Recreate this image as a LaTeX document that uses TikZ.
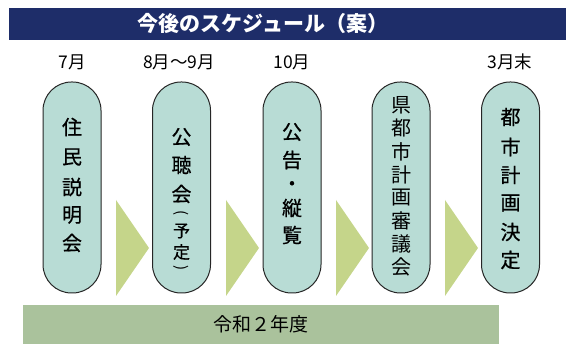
\documentclass[tikz,border=0pt]{standalone}
\usepackage{fontspec}
\setmainfont{Noto Sans CJK JP}
\newfontfamily\jpmed[FakeBold=0.6]{Noto Sans CJK JP}
\definecolor{navy}{RGB}{30,45,105}
\definecolor{pillc}{RGB}{184,220,213}
\definecolor{tric}{RGB}{197,213,138}
\definecolor{barc}{RGB}{170,194,156}
\begin{document}
\begin{tikzpicture}[x=1pt,y=-1pt,
  pill/.style={draw=black!85, line width=1pt, fill=pillc, rounded corners=28.5pt,
    minimum width=58pt, minimum height=211pt, inner sep=0pt},
  ch/.style={inner sep=0pt, font=\jpmed\fontsize{20}{20}\selectfont},
  chl/.style={inner sep=0pt, font=\fontsize{20}{20}\selectfont},
  chs/.style={inner sep=0pt, font=\jpmed\fontsize{17}{17}\selectfont},
  month/.style={inner sep=0pt, font=\fontsize{17.5}{17.5}\selectfont},
  tri/.style={fill=tric}]
\useasboundingbox (0,0) rectangle (566,344);
% title
\fill[navy] (9,8) rectangle (566,40);
\node[text=white, font=\bfseries\fontsize{21}{21}\selectfont] (title) at (263,24) {今後のスケジュール（案）};
% months
\node[month] (m1) at (72,62) {7月};
\node[month] (m2) at (179,62) {8月～9月};
\node[month] (m3) at (292,62) {10月};
\node[month] (m5) at (510,62) {3月末};
% pills
\node[pill] (p1) at (72,187.5) {};
\node[pill] (p2) at (181.5,187.5) {};
\node[pill] (p3) at (292,187.5) {};
\node[pill] (p4) at (401,187.5) {};
\node[pill] (p5) at (510.5,187.5) {};
% pill texts
\foreach \c/\y in {住/127,民/157,説/187,明/215,会/243}
  \node[ch] (a\y) at (72,\y) {\c};
\foreach \c/\y in {公/137,聴/165,会/194}
  \node[ch] (b\y) at (181.5,\y) {\c};
\foreach \c/\y in {予/231,定/252}
  \node[chs] (b\y) at (181.5,\y) {\c};
\node[rotate=-90, inner sep=0pt, font=\fontsize{15}{15}\selectfont] (bo) at (181.5,213) {(};
\node[rotate=-90, inner sep=0pt, font=\fontsize{15}{15}\selectfont] (bc) at (181.5,268) {)};
\foreach \c/\y in {公/132,告/160,・/186,縦/208,覧/235}
  \node[ch] (c\y) at (292,\y) {\c};
\foreach \c/\y in {県/105,都/128,市/152,計/175,画/198,審/221,議/244,会/267}
  \node[chl] (d\y) at (401,\y) {\c};
\foreach \c/\y in {都/117,市/147,計/175,画/203,決/232,定/260}
  \node[ch] (e\y) at (510.5,\y) {\c};
% arrows
\foreach \x in {116,226,336,445}
  \fill[tri] (\x,200) -- (\x+33,248) -- (\x,296) -- cycle;
% bottom bar
\node[fill=barc, minimum width=476pt, minimum height=39pt, inner sep=0pt,
  font=\fontsize{19}{19}\selectfont] (year) at (261,324.5) {令和２年度};
\end{tikzpicture}
\end{document}
